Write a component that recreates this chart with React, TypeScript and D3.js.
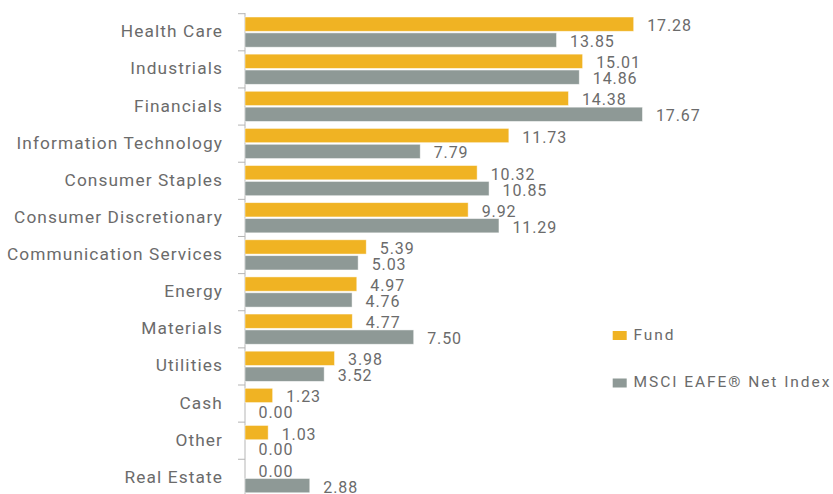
import React from "react";
import * as d3 from "d3";

const categories = [
  "Health Care",
  "Industrials",
  "Financials",
  "Information Technology",
  "Consumer Staples",
  "Consumer Discretionary",
  "Communication Services",
  "Energy",
  "Materials",
  "Utilities",
  "Cash",
  "Other",
  "Real Estate",
];
const fundValues = [17.28, 15.01, 14.38, 11.73, 10.32, 9.92, 5.39, 4.97, 4.77, 3.98, 1.23, 1.03, 0.0];
const indexValues = [13.85, 14.86, 17.67, 7.79, 10.85, 11.29, 5.03, 4.76, 7.5, 3.52, 0.0, 0.0, 2.88];
const seriesNames = ["Fund", "MSCI EAFE® Net Index"];
const seriesColors = ["#F0B323", "#8E9996"];

const W = 833;
const H = 494;

export default function App() {
  const x = d3.scaleLinear().domain([0, 17.28]).range([245, 633.7]);
  const step = 37.13;
  const y = d3.scaleBand<string>().domain(categories).range([13.7, 13.7 + step * 13]).padding(0);
  const sub = d3.scaleBand<number>().domain([0, 1]).range([3.3, 33.5]).paddingInner(0.1);
  const series = [fundValues, indexValues];
  const font = "Roboto, 'Noto Sans', sans-serif";
  const textColor = "#6b6b6b";

  return (
    <svg
      width={W}
      height={H}
      style={{ position: "absolute", left: 0, top: 0, background: "#fff" }}
      fontFamily={font}
    >
      {/* axis */}
      <line x1={x(0)} x2={x(0)} y1={13} y2={H} stroke="#b5b5b5" strokeWidth={1} />
      {d3.range(categories.length + 1).map((i) => {
        const ty = 13.7 + i * y.step();
        return <line key={"t" + i} x1={238} x2={x(0)} y1={ty} y2={ty} stroke="#b5b5b5" strokeWidth={1} />;
      })}
      {categories.map((c, i) => {
        const by = y(c)!;
        return (
          <g key={c}>
            <text
              x={223}
              y={by + y.bandwidth() / 2 - 1}
              textAnchor="end"
              dominantBaseline="central"
              fontSize={17.3}
              letterSpacing={1.1}
              fill={textColor}
            >
              {c}
            </text>
            {series.map((vals, s) => {
              const v = vals[i];
              const yy = by + sub(s)!;
              return (
                <g key={s}>
                  {v > 0 && (
                    <rect
                      x={x(0)}
                      y={yy}
                      width={x(v) - x(0)}
                      height={sub.bandwidth()}
                      fill={seriesColors[s]}
                      stroke="rgba(255,255,255,0.6)"
                      strokeWidth={0.8}
                    />
                  )}
                  <text
                    x={x(v) + 13.5}
                    y={yy + sub.bandwidth() / 2 + 1.5}
                    dominantBaseline="central"
                    fontSize={16}
                    letterSpacing={0.9}
                    fill={textColor}
                  >
                    {v.toFixed(2)}
                  </text>
                </g>
              );
            })}
          </g>
        );
      })}
      {/* legend */}
      {seriesNames.map((n, s) => {
        const ly = 331 + s * 47.5;
        return (
          <g key={n}>
            <rect x={612.7} y={ly} width={14} height={9} fill={seriesColors[s]} />
            <text x={633.5} y={ly + 8.7} fontSize={15.5} letterSpacing={1.95} fill={textColor}>
              {n}
            </text>
          </g>
        );
      })}
    </svg>
  );
}
